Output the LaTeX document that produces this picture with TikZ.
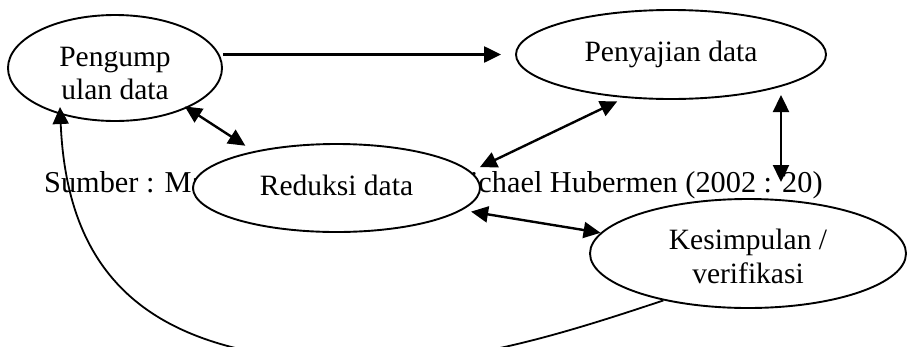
\documentclass[tikz,border=0pt]{standalone}
\usepackage{fontspec}
\setmainfont{Liberation Serif}
\usetikzlibrary{arrows.meta,shapes.geometric,calc}
\begin{document}
\begin{tikzpicture}[x=1pt,y=-1pt,
  bub/.style={draw, ellipse, fill=white, line width=1.9pt, inner sep=0pt, align=center,
    font=\fontsize{29.5}{33.5}\selectfont},
  dbl/.style={line width=2.4pt, {Triangle[length=17pt,width=16pt]}-{Triangle[length=17pt,width=16pt]}},
  sgl/.style={line width=2.4pt, -{Triangle[length=17pt,width=16pt]}},
  srctext/.style={anchor=base west, inner sep=0pt, font=\fontsize{30.3}{34}\selectfont}
]
\fill[white] (0,0) rectangle (907,346);
\useasboundingbox (0,0) rectangle (907,346);

\node[srctext] (src) at (44,192) {Sumber : Matthew B. Miles dan Michael Hubermen (2002 : 20)};

\node[bub, minimum width=214pt, minimum height=106pt] (p1) at (115,68) {\rule{0pt}{30pt}Pengump\\ulan data};
\node[bub, minimum width=310pt, minimum height=89pt, text depth=6.4pt] (p2) at (671,54.5) {Penyajian data};
\node[bub, minimum width=287pt, minimum height=88pt, text depth=6.4pt] (p3) at (336.5,188) {Reduksi data};
\node[bub, minimum width=316pt, minimum height=109pt] (p4) at (748,253.5) {\rule{0pt}{26pt}Kesimpulan /\\verifikasi};

% connectors
\draw[sgl, shorten >=14pt] (p1.east |- p2.west) -- (p2.west);
\draw[dbl, shorten <=-3pt, shorten >=10pt] (p1.-29) -- (p3.156);
\draw[dbl, shorten <=10pt, shorten >=8pt] (p3.7) -- (p2.-137);
\draw[dbl] ([xshift=110pt,yshift=-40.5pt]p2.center) -- ([xshift=33pt,yshift=71.5pt]p4.center);
\draw[dbl, shorten <=9pt] (p3.-10) -- (p4.172);
\draw[line width=1.8pt, -{Triangle[length=17pt,width=16pt]}]
  (p4.-151) .. controls (560,335) and (470,362) .. (380,362)
  .. controls (170,364) and (68,295) .. ([xshift=-55pt,yshift=-39pt]p1.center);
\end{tikzpicture}
\end{document}
